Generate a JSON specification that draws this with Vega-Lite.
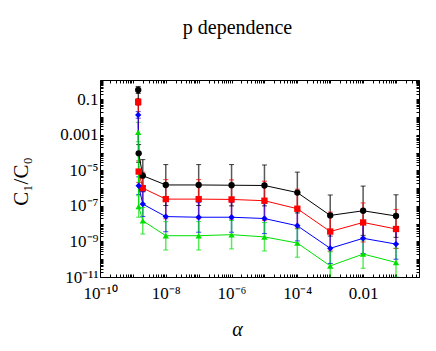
{
  "$schema": "https://vega.github.io/schema/vega-lite/v6.json",
  "width": 319,
  "height": 197,
  "autosize": "none",
  "padding": {"left": 100, "top": 80, "right": 17, "bottom": 74},
  "background": "white",
  "title": {"text": "p dependence", "font": "Liberation Serif", "fontSize": 20, "fontWeight": "normal", "color": "black", "anchor": "middle", "dx": -22, "offset": 18, "baseline": "alphabetic"},
  "config": {
    "view": {"stroke": null},
    "axis": {"grid": false, "domainColor": "black", "tickColor": "black", "labelColor": "black", "titleColor": "black", "labelFont": "Liberation Serif", "labelFontSize": 17, "titleFont": "Liberation Serif", "titleFontWeight": "normal", "labelOverlap": false, "labelFlush": false, "labelBound": false, "tickSize": -3}
  },
  "data": {"values": [
    {"a": 1.45e-9, "v": 0.33, "lo": 0.21, "hi": 0.52, "s": "k"},
    {"a": 1.5e-9, "v": 9e-5, "lo": 2.8e-5, "hi": 2.8e-4, "s": "k"},
    {"a": 2e-9, "v": 5e-6, "lo": 6.3e-7, "hi": 4e-5, "s": "k"},
    {"a": 1e-8, "v": 1.5e-6, "lo": 1.05e-7, "hi": 2.1e-5, "s": "k"},
    {"a": 1e-7, "v": 1.5e-6, "lo": 1.05e-7, "hi": 2.1e-5, "s": "k"},
    {"a": 1e-6, "v": 1.45e-6, "lo": 1e-7, "hi": 2.1e-5, "s": "k"},
    {"a": 1e-5, "v": 1.4e-6, "lo": 1e-7, "hi": 2e-5, "s": "k"},
    {"a": 1e-4, "v": 5.6e-7, "lo": 4e-8, "hi": 7.9e-6, "s": "k"},
    {"a": 1e-3, "v": 2.9e-8, "lo": 2e-9, "hi": 4.1e-7, "s": "k"},
    {"a": 1e-2, "v": 5.3e-8, "lo": 2.2e-9, "hi": 1.3e-6, "s": "k"},
    {"a": 0.1, "v": 2.7e-8, "lo": 1.7e-9, "hi": 4.2e-7, "s": "k"},
    {"a": 1.45e-9, "v": 0.07, "lo": 0.045, "hi": 0.11, "s": "r"},
    {"a": 1.5e-9, "v": 8.5e-6, "lo": 2.1e-6, "hi": 3.4e-5, "s": "r"},
    {"a": 2e-9, "v": 1e-6, "lo": 1.26e-7, "hi": 7.9e-6, "s": "r"},
    {"a": 1e-8, "v": 2.4e-7, "lo": 1.9e-8, "hi": 3e-6, "s": "r"},
    {"a": 1e-7, "v": 2.4e-7, "lo": 1.9e-8, "hi": 3e-6, "s": "r"},
    {"a": 1e-6, "v": 2.3e-7, "lo": 1.8e-8, "hi": 2.9e-6, "s": "r"},
    {"a": 1e-5, "v": 1.95e-7, "lo": 1.55e-8, "hi": 2.45e-6, "s": "r"},
    {"a": 1e-4, "v": 6.9e-8, "lo": 5.5e-9, "hi": 8.7e-7, "s": "r"},
    {"a": 1e-3, "v": 3.6e-9, "lo": 2.9e-10, "hi": 4.5e-8, "s": "r"},
    {"a": 1e-2, "v": 1.17e-8, "lo": 9.3e-10, "hi": 1.47e-7, "s": "r"},
    {"a": 0.1, "v": 5e-9, "lo": 4e-10, "hi": 6.3e-8, "s": "r"},
    {"a": 1.45e-9, "v": 0.013, "lo": 0.0085, "hi": 0.02, "s": "b"},
    {"a": 1.5e-9, "v": 1.35e-6, "lo": 4.3e-7, "hi": 4.3e-6, "s": "b"},
    {"a": 2e-9, "v": 1.26e-7, "lo": 2.5e-8, "hi": 6.3e-7, "s": "b"},
    {"a": 1e-8, "v": 2.5e-8, "lo": 3.5e-9, "hi": 1.8e-7, "s": "b"},
    {"a": 1e-7, "v": 2.3e-8, "lo": 3.3e-9, "hi": 1.6e-7, "s": "b"},
    {"a": 1e-6, "v": 2.3e-8, "lo": 3.3e-9, "hi": 1.6e-7, "s": "b"},
    {"a": 1e-5, "v": 1.95e-8, "lo": 2.75e-9, "hi": 1.4e-7, "s": "b"},
    {"a": 1e-4, "v": 7.6e-9, "lo": 1.07e-9, "hi": 5.4e-8, "s": "b"},
    {"a": 1e-3, "v": 4.1e-10, "lo": 5.8e-11, "hi": 2.9e-9, "s": "b"},
    {"a": 1e-2, "v": 1.5e-9, "lo": 2.1e-10, "hi": 1.06e-8, "s": "b"},
    {"a": 0.1, "v": 7.1e-10, "lo": 1e-10, "hi": 5e-9, "s": "b"},
    {"a": 1.45e-9, "v": 1.4e-3, "lo": 4e-4, "hi": 5e-3, "s": "g"},
    {"a": 1.5e-9, "v": 9.3e-8, "lo": 2.3e-8, "hi": 3.7e-7, "s": "g"},
    {"a": 2e-9, "v": 1.45e-8, "lo": 2.6e-9, "hi": 8.1e-8, "s": "g"},
    {"a": 1e-8, "v": 2.1e-9, "lo": 3.3e-10, "hi": 1.3e-8, "s": "g"},
    {"a": 1e-7, "v": 2.1e-9, "lo": 3.3e-10, "hi": 1.3e-8, "s": "g"},
    {"a": 1e-6, "v": 2.4e-9, "lo": 3.8e-10, "hi": 1.5e-8, "s": "g"},
    {"a": 1e-5, "v": 1.8e-9, "lo": 2.9e-10, "hi": 1.15e-8, "s": "g"},
    {"a": 1e-4, "v": 8.1e-10, "lo": 1.3e-10, "hi": 5.1e-9, "s": "g"},
    {"a": 1e-3, "v": 4.2e-11, "lo": 6.6e-12, "hi": 2.6e-10, "s": "g"},
    {"a": 1e-2, "v": 1.95e-10, "lo": 3.1e-11, "hi": 1.2e-9, "s": "g"},
    {"a": 0.1, "v": 6.6e-11, "lo": 1e-11, "hi": 4.2e-10, "s": "g"}
  ]},
  "resolve": {"axis": {"x": "independent", "y": "independent"}},
  "layer": [
    {
      "mark": {"type": "rule", "strokeWidth": 1.5, "opacity": 0.65, "clip": true},
      "encoding": {
        "x": {"field": "a", "type": "quantitative", "scale": {"type": "log", "domain": [1e-10, 0.5], "nice": false},
          "axis": {"orient": "bottom", "tickCount": 100, "labelPadding": 24, "labelBaseline": "alphabetic", "labelExpr": "abs(log(datum.value)/LN10 - round(log(datum.value)/LN10)) > 0.01 ? '' : round(log(datum.value)/LN10) == -10 ? '10⁻¹⁰' : round(log(datum.value)/LN10) == -8 ? '10⁻⁸' : round(log(datum.value)/LN10) == -6 ? '10⁻⁶' : round(log(datum.value)/LN10) == -4 ? '10⁻⁴' : round(log(datum.value)/LN10) == -2 ? '0.01' : ''",
            "title": "α", "titleFontStyle": "italic", "titleFontSize": 20, "titleX": 137, "titleY": 58, "titleBaseline": "alphabetic", "titleAlign": "center"}},
        "y": {"field": "lo", "type": "quantitative", "scale": {"type": "log", "domain": [1e-11, 1.2], "nice": false},
          "axis": {"orient": "left", "tickCount": 100, "labelPadding": 5, "labelExpr": "abs(log(datum.value)/LN10 - round(log(datum.value)/LN10)) > 0.01 ? '' : round(log(datum.value)/LN10) == -11 ? '10⁻¹¹' : round(log(datum.value)/LN10) == -9 ? '10⁻⁹' : round(log(datum.value)/LN10) == -7 ? '10⁻⁷' : round(log(datum.value)/LN10) == -5 ? '10⁻⁵' : round(log(datum.value)/LN10) == -3 ? '0.001' : round(log(datum.value)/LN10) == -1 ? '0.1' : ''",
            "title": "C₁/C₀", "titleFontSize": 21, "titleAngle": -90, "titleX": -79, "titleY": 101, "titleBaseline": "middle", "titleAlign": "center"}},
        "y2": {"field": "hi"},
        "color": {"field": "s", "type": "nominal", "scale": {"domain": ["g", "b", "r", "k"], "range": ["#00e000", "#0000ff", "#ff0000", "#000000"]}, "legend": null}
      }
    },
    {
      "mark": {"type": "tick", "orient": "horizontal", "size": 5, "thickness": 1, "opacity": 0.75, "clip": true},
      "encoding": {
        "x": {"field": "a", "type": "quantitative", "axis": {"orient": "top", "tickCount": 100, "labels": false, "title": null}},
        "y": {"field": "lo", "type": "quantitative", "axis": {"orient": "right", "tickCount": 100, "labels": false, "title": null}},
        "color": {"field": "s", "type": "nominal", "legend": null}
      }
    },
    {
      "mark": {"type": "tick", "orient": "horizontal", "size": 5, "thickness": 1, "opacity": 0.75, "clip": true},
      "encoding": {
        "x": {"field": "a", "type": "quantitative", "axis": null},
        "y": {"field": "hi", "type": "quantitative", "axis": null},
        "color": {"field": "s", "type": "nominal", "legend": null}
      }
    },
    {
      "mark": {"type": "line", "strokeWidth": 1, "clip": true},
      "encoding": {
        "x": {"field": "a", "type": "quantitative", "axis": null},
        "y": {"field": "v", "type": "quantitative", "axis": null},
        "color": {"field": "s", "type": "nominal", "legend": null}
      }
    },
    {
      "mark": {"type": "point", "filled": true, "opacity": 1, "size": 40, "clip": true},
      "encoding": {
        "x": {"field": "a", "type": "quantitative", "axis": null},
        "y": {"field": "v", "type": "quantitative", "axis": null},
        "color": {"field": "s", "type": "nominal", "legend": null},
        "shape": {"field": "s", "type": "nominal", "scale": {"domain": ["g", "b", "r", "k"], "range": ["triangle-up", "diamond", "square", "circle"]}, "legend": null}
      }
    }
  ]
}
